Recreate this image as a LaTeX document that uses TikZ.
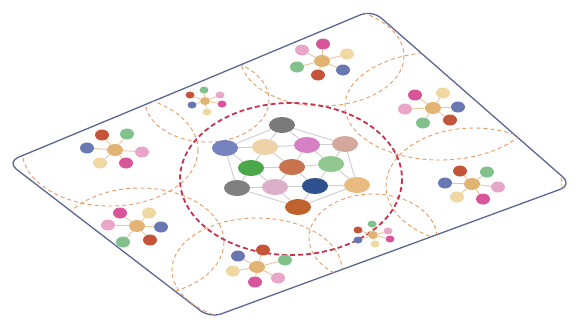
\documentclass[tikz,border=0pt]{standalone}
\usetikzlibrary{shapes.geometric}
\definecolor{framec}{HTML}{5B6790}
\definecolor{zonec}{HTML}{E89A68}
\definecolor{corec}{HTML}{C8324E}
\definecolor{linkc}{HTML}{E8C8A0}
\definecolor{netl}{HTML}{CDCDD2}
\definecolor{cred}{HTML}{C4553A}
\definecolor{cgreen}{HTML}{82C08C}
\definecolor{cblue}{HTML}{6A78B2}
\definecolor{cpink}{HTML}{E8A6C8}
\definecolor{cmag}{HTML}{D9559A}
\definecolor{ccream}{HTML}{F0D8A2}
\definecolor{chub}{HTML}{E2B473}
\tikzset{
  petal/.style={ellipse, minimum width=14pt, minimum height=11pt, inner sep=0pt},
  spetal/.style={ellipse, minimum width=9pt, minimum height=7pt, inner sep=0pt},
  hub/.style={ellipse, minimum width=16pt, minimum height=12pt, inner sep=0pt, fill=chub},
  shub/.style={ellipse, minimum width=10pt, minimum height=8pt, inner sep=0pt, fill=chub},
  link/.style={draw=linkc, line width=0.9pt},
  zone/.style={draw=zonec, line width=0.9pt, dash pattern=on 4pt off 3pt},
  core/.style={draw=corec, line width=1.8pt, dash pattern=on 5pt off 3pt},
  netnode/.style={ellipse, minimum width=26pt, minimum height=16pt, inner sep=0pt},
  netlink/.style={draw=netl, line width=0.9pt},
  frame/.style={draw=framec, line width=1.3pt, rounded corners=12pt},
}
\begin{document}
\begin{tikzpicture}[x=1pt,y=-1pt]
\useasboundingbox (0,0) rectangle (576,322);
% outer plane
\draw[frame] (190,86) -- (372,10) -- (572,185) -- (210,318) -- (7,162) -- cycle;
% zones
\begin{scope}
\clip[rounded corners=12pt] (190,86) -- (372,10) -- (572,185) -- (210,318) -- (7,162) -- cycle;
\draw[zone] (322,56) ellipse [x radius=82, y radius=50];
\draw[zone] (440,106) ellipse [x radius=95, y radius=54];
\draw[zone] (474,186) ellipse [x radius=88, y radius=58];
\draw[zone] (373,238) ellipse [x radius=64, y radius=44];
\draw[zone] (257,270) ellipse [x radius=85, y radius=52];
\draw[zone] (140,242) ellipse [x radius=84, y radius=54];
\draw[zone] (110,150) ellipse [x radius=88, y radius=56];
\draw[zone] (207,100) ellipse [x radius=62, y radius=42];
\end{scope}
\draw[core] (291,179) ellipse [x radius=111, y radius=76];
% central network
\foreach \n/\x/\y/\c in {n1/282/125/7A7A7A, n2/225/148/7682BF, n3/265/147/EFD3A8,
  n4/307/145/D580C4, n5/345/144/D4A89C, n6/251/168/4AA84A, n7/292/167/C8734E,
  n8/331/164/90C890, n9/237/188/808080, n10/275/187/DCB0C8, n11/315/186/2E508F,
  n12/357/185/E8BB80, n13/298/207/C0622E}
  {\definecolor{tmpc}{HTML}{\c}\node[netnode, fill=tmpc] (\n) at (\x,\y) {};}
\foreach \a/\b in {n1/n2, n1/n3, n1/n4, n1/n5, n2/n3, n3/n4, n4/n5, n2/n6, n2/n9,
  n3/n6, n3/n7, n4/n7, n4/n8, n5/n8, n5/n12, n6/n7, n7/n8, n6/n9, n6/n10, n7/n10,
  n7/n11, n8/n11, n8/n12, n9/n10, n10/n11, n11/n12, n9/n13, n10/n13, n11/n13, n12/n13}
  {\draw[netlink] (\a) -- (\b);}
% flower clusters
\node[hub] (a0) at (322,61) {};
\foreach \i/\x/\y/\c in {1/323/44/cmag, 2/302/50/cpink, 3/347/54/ccream, 4/297/67/cgreen, 5/343/70/cblue, 6/318/75/cred}
  {\node[petal, fill=\c] (a\i) at (\x,\y) {}; \draw[link] (a0) -- (a\i);}
\node[hub] (b0) at (433,108) {};
\foreach \i/\x/\y/\c in {1/415/95/cmag, 2/443/93/ccream, 3/405/109/cpink, 4/458/107/cblue, 5/423/123/cgreen, 6/450/120/cred}
  {\node[petal, fill=\c] (b\i) at (\x,\y) {}; \draw[link] (b0) -- (b\i);}
\node[hub] (c0) at (115,150) {};
\foreach \i/\x/\y/\c in {1/102/135/cred, 2/127/134/cgreen, 3/87/148/cblue, 4/142/152/cpink, 5/100/163/ccream, 6/126/163/cmag}
  {\node[petal, fill=\c] (c\i) at (\x,\y) {}; \draw[link] (c0) -- (c\i);}
\node[hub] (d0) at (137,226) {};
\foreach \i/\x/\y/\c in {1/120/213/cmag, 2/149/213/ccream, 3/108/225/cpink, 4/161/227/cblue, 5/123/242/cgreen, 6/150/240/cred}
  {\node[petal, fill=\c] (d\i) at (\x,\y) {}; \draw[link] (d0) -- (d\i);}
\node[hub] (e0) at (257,267) {};
\foreach \i/\x/\y/\c in {1/238/256/cblue, 2/263/250/cred, 3/285/260/cgreen, 4/233/271/ccream, 5/255/282/cmag, 6/278/278/cpink}
  {\node[petal, fill=\c] (e\i) at (\x,\y) {}; \draw[link] (e0) -- (e\i);}
\node[hub] (f0) at (472,184) {};
\foreach \i/\x/\y/\c in {1/460/171/cred, 2/487/172/cgreen, 3/445/183/cblue, 4/498/187/cpink, 5/457/197/ccream, 6/483/199/cmag}
  {\node[petal, fill=\c] (f\i) at (\x,\y) {}; \draw[link] (f0) -- (f\i);}
\node[shub] (g0) at (205,101) {};
\foreach \i/\x/\y/\c in {1/204/90/cgreen, 2/190/95/cred, 3/220/95/cpink, 4/192/105/cblue, 5/222/104/cmag, 6/207/112/ccream}
  {\node[spetal, fill=\c] (g\i) at (\x,\y) {}; \draw[link] (g0) -- (g\i);}
\node[shub] (h0) at (373,235) {};
\foreach \i/\x/\y/\c in {1/372/224/cgreen, 2/358/230/cred, 3/388/231/cpink, 4/358/240/cblue, 5/390/239/cmag, 6/375/244/ccream}
  {\node[spetal, fill=\c] (h\i) at (\x,\y) {}; \draw[link] (h0) -- (h\i);}
\end{tikzpicture}
\end{document}
